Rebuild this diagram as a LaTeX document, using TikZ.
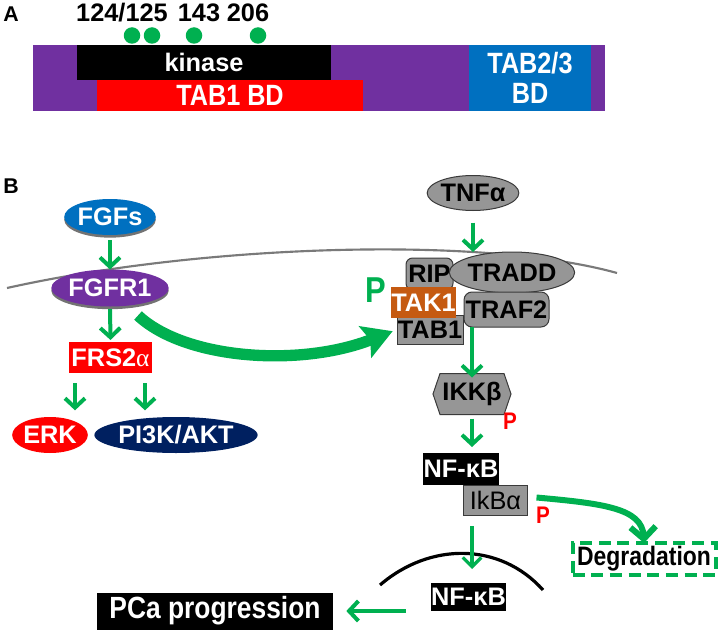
\documentclass[tikz,border=0pt]{standalone}
\usepackage{fontspec}
\setmainfont{Liberation Sans}
\newfontfamily\narrowsans[FakeStretch=0.86]{Liberation Sans}
\newfontfamily\serifalpha{Liberation Serif}
\usetikzlibrary{arrows.meta,calc,shadows,shapes.geometric}
\definecolor{tpurple}{HTML}{7030A0}
\definecolor{tblue}{HTML}{0070C0}
\definecolor{tgreen}{HTML}{00B050}
\definecolor{tnavy}{HTML}{002060}
\definecolor{tgray}{HTML}{969696}
\definecolor{tedge}{HTML}{3A3A3A}
\definecolor{torange}{HTML}{C55A11}
\definecolor{tred}{HTML}{FF0000}
\definecolor{tmem}{HTML}{7A7A7A}
\newcommand\fsz[1]{\fontsize{#1}{#1}\selectfont}
\begin{document}
\begin{tikzpicture}[x=0.75pt,y=-0.75pt,
  every node/.style={inner sep=0pt, outer sep=0pt},
  sz/.style 2 args={minimum width=#1*0.75pt, minimum height=#2*0.75pt},
  txt/.style={font={\bfseries\fsz{19pt}}, text=black},
  wtxt/.style={font={\bfseries\fsz{19pt}}, text=white},
  grayel/.style={ellipse, fill=tgray, draw=tedge, line width=0.75pt, txt},
  graybox/.style={rectangle, fill=tgray, draw=tedge, line width=0.75pt, txt},
  shad/.style={drop shadow={shadow xshift=0pt, shadow yshift=-2pt, opacity=1, fill=black!55}},
  garrow/.style={draw=tgreen, line width=3pt, -{Straight Barb[length=7pt,width=15pt]}},
  bigarrow/.style={draw=tgreen, line width=8.5pt, -{Stealth[length=22pt,width=25pt,inset=4pt]}},
  membrane/.style={draw=tmem, line width=1.6pt},
  plabel/.style={font={\narrowsans\bfseries\fsz{18pt}}, text=tred},
  panel/.style={font={\bfseries\fsz{16pt}}}
]
\useasboundingbox (0,0) rectangle (720,631);

% ---------- Panel A ----------
\node[panel] (labA) at (11,14) {A};
\node[txt] (n124) at (122,13) {124/125};
\node[txt] (n143) at (199,13) {143};
\node[txt] (n206) at (248,13) {206};
\node[circle, fill=tgreen, minimum size=16.5*0.75pt] (d1) at (132,35.5) {};
\node[circle, fill=tgreen, minimum size=16.5*0.75pt] (d2) at (152,35.5) {};
\node[circle, fill=tgreen, minimum size=16.5*0.75pt] (d3) at (194,35.5) {};
\node[circle, fill=tgreen, minimum size=16.5*0.75pt] (d4) at (258,35.5) {};

\node[rectangle, fill=tpurple, sz={572}{66}] (bar) at (319,78) {};
\node[rectangle, fill=black, sz={254}{35}, wtxt] (kin) at (204,62.5) {kinase};
\node[rectangle, fill=tred, sz={266}{31}, wtxt, font={\narrowsans\bfseries\fsz{22pt}}] (tab1bd) at (230,95.5) {TAB1 BD};
\node[rectangle, fill=tblue, sz={122}{66}, wtxt, align=center, font={\narrowsans\bfseries\fsz{22pt}}] (tab23) at (530,78) {TAB2/3\\[1pt]BD};

% ---------- Panel B ----------
\node[panel] (labB) at (11,186) {B};

% membrane
\draw[membrane] (7,288) .. controls (200,245) and (480,235) .. (617,273);

% FGF branch
\node[ellipse, fill=tblue, sz={91}{36}, wtxt, shad] (fgfs) at (110,217) {FGFs};
\node[ellipse, fill=tpurple, sz={115}{37}, wtxt, shad] (fgfr1) at (110,288) {FGFR1};
\node[rectangle, fill=tred, sz={83}{31}, wtxt] (frs) at (110.5,357.5) {FRS2{\serifalpha\mdseries α}};
\node[ellipse, fill=tred, sz={74}{36}, wtxt] (erk) at (50,435) {ERK};
\node[ellipse, fill=tnavy, sz={162}{36}, wtxt] (pi3k) at (176,435) {PI3K/AKT};

\draw[garrow, shorten <=4pt] (fgfs.south) -- (fgfr1.north);
\draw[garrow, shorten <=2pt, shorten >=1.5pt] (fgfr1.south) -- (frs.north);
\draw[garrow, shorten <=7.5pt, shorten >=5pt] ([xshift=4.5pt]frs.south west) -- ([xshift=4.5pt]frs.south west |- erk.north);
\draw[garrow, shorten <=7.5pt, shorten >=5pt] ([xshift=-5.25pt]frs.south east) -- ([xshift=-5.25pt]frs.south east |- pi3k.north);

% TNF branch
\node[grayel, sz={91}{35}] (tnf) at (473,193) {TNFα};
\node[graybox, rounded corners=5pt, sz={47}{32}] (rip) at (429.5,274) {RIP};
\node[grayel, sz={120}{41}] (tradd) at (512,272.5) {TRADD};
\node[graybox, sz={66}{29}] (tab1) at (430,329.5) {\raisebox{-2pt}{TAB1}};
\node[rectangle, fill=torange, sz={65}{31}, wtxt] (tak1) at (423.5,302.5) {TAK1};
\node[graybox, rounded corners=6pt, sz={85}{35}] (traf2) at (506.5,309.5) {TRAF2};
\node[font={\narrowsans\bfseries\fsz{27pt}}, text=tgreen] (pg) at (376,290) {P};

\draw[garrow, shorten <=9pt] (tnf.south) -- (tnf.south |- tradd.north);

% big curved arrow FGFR1 -> TAB1
\coordinate (cstart) at ($(fgfr1.south)+(28,9)$);
\draw[bigarrow, shorten >=3.5pt] (cstart) .. controls ($(fgfr1.south)+(75,53)$) and ($(tab1.west)+(-97,38)$) .. (tab1.west);

% IKK
\filldraw[fill=tgray, draw=tedge, line width=0.75pt] (433,394) -- (440,373.5) -- (504,373.5) -- (511,394) -- (504,414.5) -- (440,414.5) -- cycle;
\node[txt, sz={64}{41}] (ikk) at (472,394) {IKKβ};
\node[plabel] (p2) at (510,421) {P};

\draw[garrow] (ikk.north |- traf2.south) -- ([yshift=-3pt]ikk.north);
\draw[garrow, shorten <=3pt, shorten >=4.5pt] (ikk.south) -- (ikk.south |- 0,453);

% NF-kB / IkBa
\node[rectangle, fill=black, sz={76}{32}, wtxt] (nfkb) at (461,469) {NF-κB};
\node[graybox, sz={64}{30}, font={\mdseries\fsz{19pt}}] (ikba) at (495.5,500.5) {IkBα};
\node[plabel] (p3) at (543,515) {P};

% Degradation
\node[rectangle, draw=tgreen, line width=3pt, dash pattern=on 9pt off 5pt, fill=white, sz={143}{32}, txt, font={\narrowsans\bfseries\fsz{20pt}}] (deg) at (644,559) {Degradation};
\draw[draw=tgreen, line width=4.5pt, -{Straight Barb[length=9pt,width=19pt]}] ($(ikba.east)+(9,-3)$) .. controls ($(ikba.east)+(75,3)$) and ($(deg.north)+(-2,-35)$) .. (deg.north);

% nucleus
\draw[black, line width=2.4pt] (380,585) .. controls (430,542) and (500,542) .. (543,590);
\node[rectangle, fill=black, sz={75}{28}, wtxt] (nfkb2) at (468.5,597) {NF-κB};
\node[rectangle, fill=black, sz={236}{37}, wtxt, font={\narrowsans\bfseries\fsz{23pt}}] (pca) at (215,611) {PCa progression};

\draw[draw=tgreen, line width=2.4pt, -{Straight Barb[length=7pt,width=14pt]}, shorten <=8pt, shorten >=10.5pt] (ikk.south |- ikba.south) -- (ikk.south |- nfkb2.north);
\draw[garrow, shorten <=19pt, shorten >=10pt] (nfkb2.west |- pca.east) -- (pca.east);
\end{tikzpicture}
\end{document}
